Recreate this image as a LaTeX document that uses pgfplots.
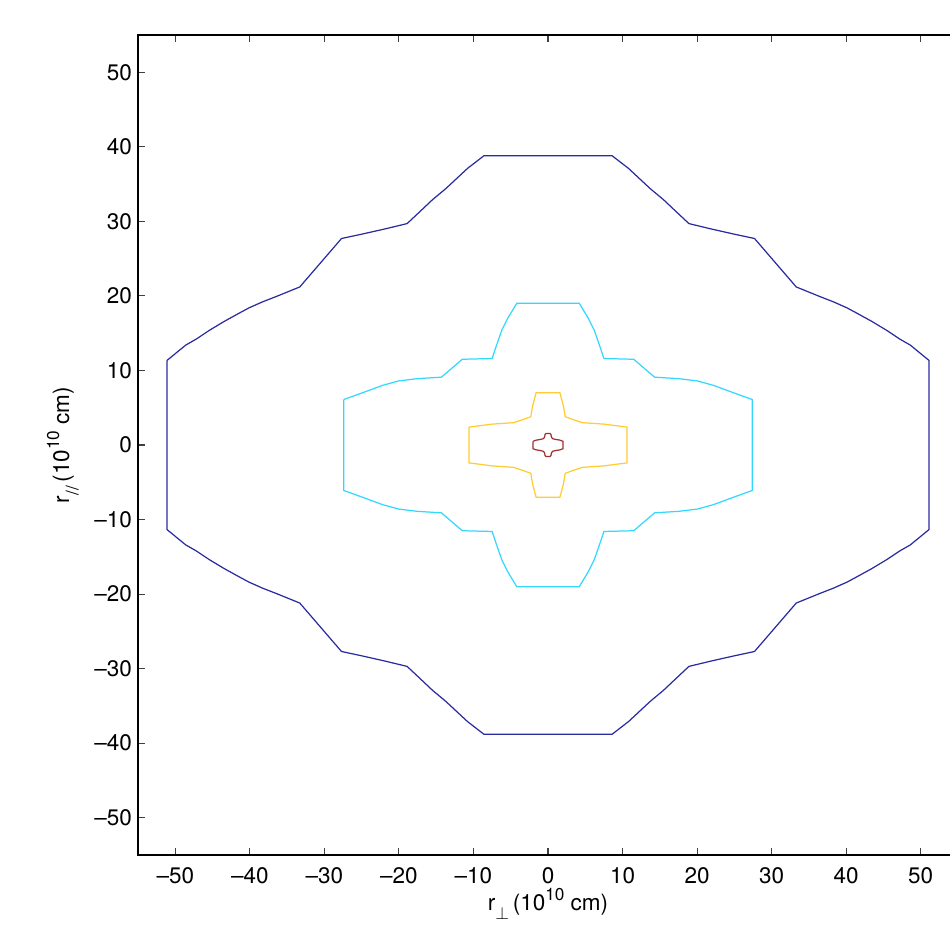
\documentclass[border=0pt]{standalone}
\usepackage{fontspec}
\setmainfont{TeX Gyre Heros}
\usepackage{pgfplots}
\pgfplotsset{compat=1.18}
\definecolor{cblue}{HTML}{2B2BA0}
\definecolor{ccyan}{HTML}{33D8FF}
\definecolor{cyell}{HTML}{FFCC33}
\definecolor{cred}{HTML}{A03030}
\newcommand{\sups}[1]{\raisebox{0.44em}{\fontsize{9.8}{10}\selectfont #1}}
\newcommand{\subs}[1]{\raisebox{-0.42em}{\fontsize{9.8}{10}\selectfont #1}}
\begin{document}
\begin{tikzpicture}[font=\fontsize{12.8}{15}\selectfont]
\useasboundingbox (-2.76cm,-1.42cm) rectangle (16.24cm,17.1cm);
\begin{axis}[
  at={(0,0)}, anchor=south west,
  scale only axis, width=16.4cm, height=16.4cm,
  xmin=-55, xmax=55, ymin=-55, ymax=55,
  xtick={-50,-40,...,50}, ytick={-50,-40,...,50},
  xticklabels={\textendash50,\textendash40,\textendash30,\textendash20,\textendash10,0,10,20,30,40,50},
  yticklabels={\textendash50,\textendash40,\textendash30,\textendash20,\textendash10,0,10,20,30,40,50},
  tick align=inside, major tick length=1.4mm,
  tick style={black!75, line width=0.6pt},
  axis line style={line width=0.85pt},
  xticklabel style={yshift=-1.2mm},
  xlabel={r\subs{$\perp$}\,(10\sups{10} cm)},
  ylabel={r\subs{//}\,(10\sups{10} cm)},
  xlabel style={at={(axis description cs:0.5,-0.0675)}, anchor=base},
  ylabel style={at={(axis description cs:-0.0841,0.5)}, anchor=base},
  every axis plot/.append style={line width=0.7pt, mark=none},
]
% outermost contour
\addplot[cblue] coordinates {
(-51.1,11.35) (-48.6,13.4) (-47.2,14.2) (-45.4,15.4) (-43.4,16.6) (-41.4,17.7) (-40.1,18.4) (-38.3,19.2) (-36.5,19.9) (-33.3,21.2) (-27.7,27.7) (-24.9,28.3) (-21.8,29.0) (-18.9,29.7) (-17.3,31.2) (-15.5,32.9) (-13.7,34.4) (-10.8,37.1) (-8.6,38.8)
(8.6,38.8) (10.8,37.1) (13.7,34.4) (15.5,32.9) (17.3,31.2) (18.9,29.7) (21.8,29.0) (24.9,28.3) (27.7,27.7) (33.3,21.2) (36.5,19.9) (38.3,19.2) (40.1,18.4) (41.4,17.7) (43.4,16.6) (45.4,15.4) (47.2,14.2) (48.6,13.4) (51.1,11.35)
(51.1,-11.35) (48.6,-13.4) (47.2,-14.2) (45.4,-15.4) (43.4,-16.6) (41.4,-17.7) (40.1,-18.4) (38.3,-19.2) (36.5,-19.9) (33.3,-21.2) (27.7,-27.7) (24.9,-28.3) (21.8,-29.0) (18.9,-29.7) (17.3,-31.2) (15.5,-32.9) (13.7,-34.4) (10.8,-37.1) (8.6,-38.8)
(-8.6,-38.8) (-10.8,-37.1) (-13.7,-34.4) (-15.5,-32.9) (-17.3,-31.2) (-18.9,-29.7) (-21.8,-29.0) (-24.9,-28.3) (-27.7,-27.7) (-33.3,-21.2) (-36.5,-19.9) (-38.3,-19.2) (-40.1,-18.4) (-41.4,-17.7) (-43.4,-16.6) (-45.4,-15.4) (-47.2,-14.2) (-48.6,-13.4) (-51.1,-11.35)
(-51.1,11.35)
};
% second contour
\addplot[ccyan] coordinates {
(-27.4,6.1) (-24.9,7.0) (-22.2,8.0) (-20.0,8.6) (-17.5,8.9) (-14.3,9.1) (-11.5,11.5) (-7.5,11.6) (-7.0,13.1) (-6.2,15.4) (-5.4,17.0) (-4.2,19.0)
(4.2,19.0) (5.4,17.0) (6.2,15.4) (7.0,13.1) (7.5,11.6) (11.5,11.5) (14.3,9.1) (17.5,8.9) (20.0,8.6) (22.2,8.0) (24.9,7.0) (27.4,6.1)
(27.4,-6.1) (24.9,-7.0) (22.2,-8.0) (20.0,-8.6) (17.5,-8.9) (14.3,-9.1) (11.5,-11.5) (7.5,-11.6) (7.0,-13.1) (6.2,-15.4) (5.4,-17.0) (4.2,-19.0)
(-4.2,-19.0) (-5.4,-17.0) (-6.2,-15.4) (-7.0,-13.1) (-7.5,-11.6) (-11.5,-11.5) (-14.3,-9.1) (-17.5,-8.9) (-20.0,-8.6) (-22.2,-8.0) (-24.9,-7.0) (-27.4,-6.1)
(-27.4,6.1)
};
% third contour
\addplot[cyell] coordinates {
(-10.6,2.4) (-7.5,2.8) (-4.6,3.0) (-3.4,3.4) (-2.3,3.8) (-2.1,5.1) (-1.6,7.0)
(1.6,7.0) (2.1,5.1) (2.3,3.8) (3.4,3.4) (4.6,3.0) (7.5,2.8) (10.6,2.4)
(10.6,-2.4) (7.5,-2.8) (4.6,-3.0) (3.4,-3.4) (2.3,-3.8) (2.1,-5.1) (1.6,-7.0)
(-1.6,-7.0) (-2.1,-5.1) (-2.3,-3.8) (-3.4,-3.4) (-4.6,-3.0) (-7.5,-2.8) (-10.6,-2.4)
(-10.6,2.4)
};
% innermost contour
\addplot[cred] coordinates {
(-2.0,0.5) (-1.6,0.65) (-1.0,0.75) (-0.6,0.85) (-0.45,1.1) (-0.4,1.4) (-0.25,1.55)
(0.25,1.55) (0.4,1.4) (0.45,1.1) (0.6,0.85) (1.0,0.75) (1.6,0.65) (2.0,0.5)
(2.0,-0.5) (1.6,-0.65) (1.0,-0.75) (0.6,-0.85) (0.45,-1.1) (0.4,-1.4) (0.25,-1.55)
(-0.25,-1.55) (-0.4,-1.4) (-0.45,-1.1) (-0.6,-0.85) (-1.0,-0.75) (-1.6,-0.65) (-2.0,-0.5)
(-2.0,0.5)
};
\end{axis}
\end{tikzpicture}
\end{document}
